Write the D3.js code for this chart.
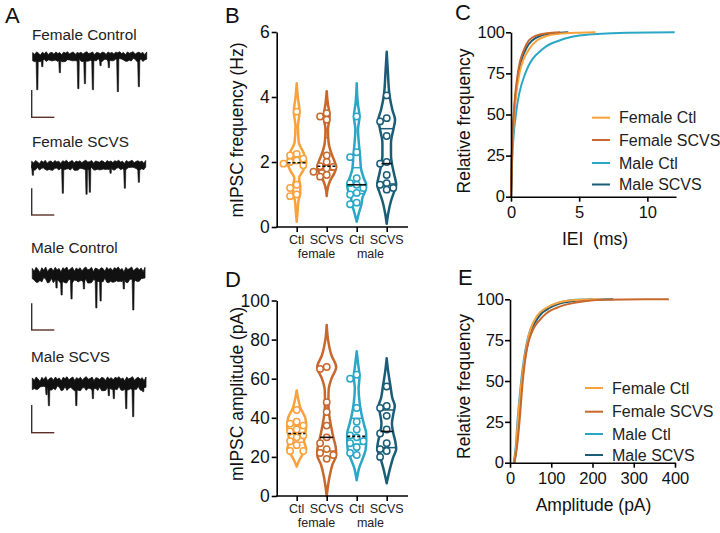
<!DOCTYPE html>
<html><head><meta charset="utf-8">
<script src="https://cdn.jsdelivr.net/npm/d3@7"></script>
<style>
body{margin:0;background:#fff;}
svg{display:block;font-family:"Liberation Sans",Arial,Helvetica,sans-serif;}
</style></head><body>
<svg id="chart" width="720" height="533"></svg>
<script>
// ---------------- DATA ----------------
const groups = ["Female Ctl","Female SCVS","Male Ctl","Male SCVS"];
const groupLabels = ["Ctl","SCVS","Ctl","SCVS"];
const sexLabels = ["female","male"];
const colors = ["#F9A23B","#C8682D","#2AA7C7","#1B5C77"];

// Panel A: trace titles, events [time %, depth pA], noise half-amplitude
const traceTitles = ["Female Control","Female SCVS","Male Control","Male SCVS"];
const eventsFemaleControl = [[3.5,33],[7.9,10],[23.3,16],[39.5,32],[45.3,27],[52.3,33],[59,9],[66.3,11],[74.2,35],[92.6,30]];
const eventsFemaleSCVS = [[0.5,10],[26.8,28],[47.6,29],[50.5,27],[68.7,8],[81.2,23],[93.5,17]];
const eventsMaleControl = [[21,13],[25.5,20],[34.3,24],[45.3,14],[56.3,33],[60.1,26],[80.7,14],[89.1,35]];
const eventsMaleSCVS = [[12,11],[14.1,22],[38.2,22],[52.8,15],[66.8,12],[71.2,15],[82.1,25],[88.2,33],[97,8]];
const noiseHalf = [5,5,8,7];
const edgePattern = [0.6,-0.2,0.9,0.3,-0.5,0.8,0.1,1.0,-0.3,0.5,0.7,-0.1,0.9,0.2,0.6,-0.4,0.8,0.4,1.0,0.0,0.5,0.9,-0.2,0.7,0.3,0.8,-0.1,0.6,1.0,0.2,0.4,0.9,-0.3,0.7,0.5,0.1,0.8,0.6,-0.2,0.9,0.3,0.7,0.0,0.8,0.5,1.0,0.2,0.6,-0.4,0.9,0.3,0.6,1.0,-0.1,0.5,0.8,0.2,0.7,-0.3,0.9];

// Panel B: mIPSC frequency (Hz)
const freqTicks = [0,2,4,6];
const freqFemaleCtl = [3.55,2.25,2.2,2.1,2.05,2.0,1.95,1.9,1.3,1.2,1.0,0.95];
const freqFemaleSCVS = [3.5,3.4,3.3,2.2,2.0,1.87,1.85,1.8,1.7,1.6,1.55];
const freqMaleCtl = [3.4,2.3,2.15,1.5,1.35,1.3,1.2,1.05,1.0,0.75,0.7];
const freqMaleSCVS = [4.05,3.35,3.25,2.8,2.0,1.95,1.6,1.35,1.3,1.2,1.15];
// violin outlines [value, relative half-width]
const freqShapeFemaleCtl = [[4.42,0],[4.0,0.12],[3.55,0.3],[3.1,0.13],[2.6,0.22],[2.3,0.7],[2.0,1.0],[1.75,0.7],[1.5,0.25],[1.25,0.38],[1.05,0.38],[0.8,0.18],[0.5,0.1],[0.16,0]];
const freqShapeFemaleSCVS = [[4.18,0],[3.8,0.12],[3.45,0.3],[3.3,0.28],[3.0,0.13],[2.6,0.2],[2.3,0.45],[2.0,0.85],[1.85,1.0],[1.65,0.8],[1.45,0.4],[1.25,0.15],[0.95,0]];
const freqShapeMaleCtl = [[4.42,0],[3.8,0.12],[3.4,0.3],[3.0,0.14],[2.6,0.22],[2.2,0.35],[1.8,0.45],[1.5,0.75],[1.3,1.0],[1.1,0.9],[0.9,0.6],[0.7,0.5],[0.45,0.25],[0.16,0]];
const freqShapeMaleSCVS = [[5.39,0],[4.8,0.12],[4.05,0.3],[3.6,0.6],[3.3,0.88],[3.0,0.7],[2.6,0.45],[2.2,0.45],[1.95,0.55],[1.6,0.8],[1.3,1.0],[1.1,0.8],[0.8,0.45],[0.4,0.15],[0.1,0]];

// Panel D: mIPSC amplitude (pA)
const ampTicks = [0,20,40,60,80,100];
const ampFemaleCtl = [44,38,37,36,34,33,31,30,28,26,23,23];
const ampFemaleSCVS = [66,65,48,43,36,30,27,24,22,21,19];
const ampMaleCtl = [62,60,45,38,34,31,30,28,27,25,22,21];
const ampMaleSCVS = [56,46,45,41,34,32,27,24,23,20];
const ampShapeFemaleCtl = [[54,0],[50,0.15],[45,0.4],[40,0.9],[36,1.0],[32,0.9],[28,0.78],[24,1.0],[21,0.6],[18,0.25],[15,0]];
const ampShapeFemaleSCVS = [[87.5,0],[80,0.14],[72,0.5],[66,1.0],[60,0.5],[54,0.2],[48,0.18],[42,0.25],[36,0.45],[30,0.7],[25,0.95],[21,1.0],[16,0.6],[10,0.3],[5,0.13],[0,0]];
const ampShapeMaleCtl = [[74,0],[68,0.14],[61,0.3],[55,0.2],[48,0.3],[42,0.5],[36,0.8],[32,1.0],[28,1.0],[24,0.95],[20,0.7],[15,0.3],[8,0]];
const ampShapeMaleSCVS = [[70.4,0],[64,0.15],[56,0.4],[50,0.6],[46,0.85],[42,0.7],[37,0.55],[32,0.7],[28,0.9],[24,1.0],[20,0.7],[15,0.4],[10,0.15],[6.5,0]];

// Panel C / E: cumulative distributions
const cumLevels = [0,10,25,50,75,90,95,98,99,99.8,100];
const cumTicks = [0,25,50,75,100];
const ieiTicks = [0,5,10];
const ieiFemaleCtl = [0,0.03,0.08,0.25,0.62,1.35,1.9,2.7,3.4,5.0,6.2];
const ieiFemaleSCVS = [0,0.02,0.06,0.2,0.5,0.98,1.3,1.85,2.3,3.0,3.6];
const ieiMaleCtl = [0,0.03,0.1,0.36,1.05,2.35,3.55,5.0,6.3,8.5,12.0];
const ieiMaleSCVS = [0,0.02,0.06,0.22,0.55,1.1,1.55,2.2,2.8,3.6,4.2];
const ampCumTicks = [0,100,200,300,400];
const ampCumFemaleCtl = [10,15,19,28,43,66,90,118,135,170,220];
const ampCumFemaleSCVS = [11,17,23,31,46,82,115,160,185,230,385];
const ampCumMaleCtl = [9,14,18,27,42,68,92,120,135,160,200];
const ampCumMaleSCVS = [10,16,21,29,45,72,98,130,155,200,250];

// ---------------- DRAW ----------------
const svg = d3.select("#chart");
svg.append("rect").attr("width",720).attr("height",533).attr("fill","#fff");

function panelLabel(t,x,y){
  svg.append("text").attr("x",x).attr("y",y).attr("font-size",22).attr("fill","#111").text(t);
}
panelLabel("A",5,23); panelLabel("B",225,23); panelLabel("C",455,20);
panelLabel("D",225,287); panelLabel("E",458,285);

// ---- Panel A ----
const traceEvents = [eventsFemaleControl,eventsFemaleSCVS,eventsMaleControl,eventsMaleSCVS];
const traceLayout = [
  {x0:32.7,x1:146.7,c:56.7,tx:32,ty:40,bar:[90,117.3]},
  {x0:31.7,x1:145.7,c:165.3,tx:32,ty:146.7,bar:[188.3,215]},
  {x0:32.3,x1:145,c:275,tx:31,ty:252.7,bar:[303.3,330]},
  {x0:32.3,x1:146,c:383.7,tx:31,ty:361.7,bar:[405,432.7]}
];
traceLayout.forEach((L,i)=>{
  const g = svg.append("g");
  g.append("text").attr("x",L.tx).attr("y",L.ty).attr("font-size",15.3).attr("fill","#222").text(traceTitles[i]);
  const xs = d3.scaleLinear().domain([0,100]).range([L.x0,L.x1]);
  const ys = d3.scaleLinear().domain([0,-40]).range([L.c,L.c+40]);
  const N = edgePattern.length;
  const pts = d3.range(N).map(k=>({t:k/(N-1)*100,top:edgePattern[k],bot:edgePattern[(k*7+i*11)%N]}));
  const h = noiseHalf[i];
  g.append("path").datum(pts)
    .attr("d",d3.area().x(d=>xs(d.t))
      .y0(d=>ys(0)-h*(0.55+0.45*d.top))
      .y1(d=>ys(0)+h*(0.55+0.45*d.bot)))
    .attr("fill","#111").attr("stroke","#111").attr("stroke-width",0.8);
  g.selectAll("path.ev").data(traceEvents[i]).join("path").attr("class","ev")
    .attr("d",d=>{const x=xs(d[0]);return `M${x-0.7},${ys(0)} L${x},${ys(-d[1])} L${x+1.2},${ys(-d[1])} L${x+1.6},${ys(0)} Z`;})
    .attr("fill","#111").attr("stroke","#111").attr("stroke-width",0.6);
  // scale bar
  g.append("line").attr("x1",31.7).attr("x2",31.7).attr("y1",L.bar[0]).attr("y2",L.bar[1]).attr("stroke","#333").attr("stroke-width",1.4);
  g.append("line").attr("x1",31).attr("x2",54.3).attr("y1",L.bar[1]).attr("y2",L.bar[1]).attr("stroke","#5a3028").attr("stroke-width",1.4);
});

// ---- Violin panels ----
function violinPanel(opt){
  const {yDomain,yRange,ticks,datasets,shapes,title,titleY,catY,medDash} = opt;
  const y = d3.scaleLinear().domain(yDomain).range(yRange);
  const x = d3.scalePoint().domain(groups).range([296.7,386.7]);
  const g = svg.append("g");
  const maxHalf = 9.5;
  groups.forEach((gr,i)=>{
    const cx = x(gr);
    const shape = shapes[i];
    const area = d3.area().curve(d3.curveMonotoneY)
      .y(d=>y(Math.max(d[0],yDomain[0])))
      .x0(d=>cx-d[1]*maxHalf).x1(d=>cx+d[1]*maxHalf);
    g.append("path").datum(shape).attr("d",area)
      .attr("fill","#fff").attr("stroke",colors[i]).attr("stroke-width",2.5).attr("stroke-linejoin","round");
    const wAt = v=>{
      for(let k=0;k<shape.length-1;k++){
        const a=shape[k],b=shape[k+1];
        if(v<=a[0]&&v>=b[0]){const t=(a[0]-v)/(a[0]-b[0]);return a[1]+(b[1]-a[1])*t;}
      }
      return 0;
    };
    const sorted = datasets[i].slice().sort(d3.ascending);
    const q1=d3.quantile(sorted,0.25), md=d3.quantile(sorted,0.5), q3=d3.quantile(sorted,0.75);
    [q1,q3].forEach(q=>{
      const w=wAt(q)*maxHalf;
      g.append("line").attr("x1",cx-w).attr("x2",cx+w).attr("y1",y(q)).attr("y2",y(q))
        .attr("stroke",colors[i]).attr("stroke-width",1.5);
    });
    // points: simple swarm
    const r=3.2, placed=[];
    const pts=[];
    datasets[i].slice().sort((a,b)=>b-a).forEach(v=>{
      const py=y(v);
      for(const k of [0,-1,1,-2,2,-3,3]){
        const px=cx+k*6.6;
        if(placed.every(p=>Math.hypot(p[0]-px,p[1]-py)>=2*r-0.2)){placed.push([px,py]);pts.push([px,py]);break;}
      }
    });
    g.selectAll(null).data(pts).join("circle")
      .attr("cx",d=>d[0]).attr("cy",d=>d[1]).attr("r",r)
      .attr("fill","#fff").attr("stroke",colors[i]).attr("stroke-width",1.5);
    const wm=wAt(md)*maxHalf;
    g.append("line").attr("x1",cx-wm).attr("x2",cx+wm).attr("y1",y(md)).attr("y2",y(md))
      .attr("stroke","#111").attr("stroke-width",1.6).attr("stroke-dasharray",medDash[i]);
  });
  // axes
  const ya = g.append("g").attr("transform","translate(276.7,0)")
    .call(d3.axisLeft(y).tickValues(ticks).tickFormat(d3.format("d")).tickSize(5).tickPadding(2).tickSizeOuter(0));
  ya.select(".domain").attr("stroke-width",1.6);
  ya.selectAll(".tick line").attr("stroke-width",1.6);
  ya.selectAll("text").attr("font-size",17.5).attr("fill","#111").attr("font-family",null);
  g.append("line").attr("x1",276).attr("x2",408).attr("y1",yRange[0]).attr("y2",yRange[0]).attr("stroke","#000").attr("stroke-width",1.6);
  const xa = g.append("g").attr("transform",`translate(0,${yRange[0]})`)
    .call(d3.axisBottom(x).tickSize(5).tickFormat(""));
  xa.select(".domain").remove();
  xa.selectAll(".tick line").attr("stroke-width",1.6);
  groups.forEach((gr,i)=>{
    g.append("text").attr("x",x(gr)).attr("y",catY).attr("text-anchor","middle").attr("font-size",12.5).attr("fill","#222").text(groupLabels[i]);
  });
  g.append("text").attr("x",316.5).attr("y",catY+14).attr("text-anchor","middle").attr("font-size",12.5).attr("fill","#222").text(sexLabels[0]);
  g.append("text").attr("x",370.5).attr("y",catY+14).attr("text-anchor","middle").attr("font-size",12.5).attr("fill","#222").text(sexLabels[1]);
  g.append("text").attr("transform",`translate(236.5,${titleY}) rotate(-90)`).attr("dy","0.35em")
    .attr("text-anchor","middle").attr("font-size",17.5).attr("fill","#111").text(title);
}

violinPanel({yDomain:[0,6],yRange:[227,32],ticks:freqTicks,
  datasets:[freqFemaleCtl,freqFemaleSCVS,freqMaleCtl,freqMaleSCVS],
  shapes:[freqShapeFemaleCtl,freqShapeFemaleSCVS,freqShapeMaleCtl,freqShapeMaleSCVS],
  title:"mIPSC frequency (Hz)",titleY:130,catY:244,medDash:["3,2","3,2","none","none"]});
violinPanel({yDomain:[0,100],yRange:[496,300.5],ticks:ampTicks,
  datasets:[ampFemaleCtl,ampFemaleSCVS,ampMaleCtl,ampMaleSCVS],
  shapes:[ampShapeFemaleCtl,ampShapeFemaleSCVS,ampShapeMaleCtl,ampShapeMaleSCVS],
  title:"mIPSC amplitude (pA)",titleY:394,catY:513,medDash:["3,2","none","3,2","none"]});

// ---- Cumulative panels ----
function cumPanel(opt){
  const {xDomain,xRange,yRange,xTicks,series,order,xTitle,xTitleX,xTitleY,titleY,legX,legRows} = opt;
  const x = d3.scaleLinear().domain(xDomain).range(xRange);
  const y = d3.scaleLinear().domain([0,100]).range(yRange);
  const g = svg.append("g");
  const line = d3.line().curve(d3.curveMonotoneX).x(d=>x(d[0])).y(d=>y(d[1]));
  order.forEach(i=>{
    const pts = series[i].map((v,k)=>[v,cumLevels[k]]);
    g.append("path").datum(pts).attr("d",line).attr("fill","none")
      .attr("stroke",colors[i]).attr("stroke-width",2);
  });
  const ya = g.append("g").attr("transform",`translate(${xRange[0]},0)`)
    .call(d3.axisLeft(y).tickValues(cumTicks).tickSize(5).tickPadding(1).tickSizeOuter(0));
  const xa = g.append("g").attr("transform",`translate(0,${yRange[0]})`)
    .call(d3.axisBottom(x).tickValues(xTicks).tickSize(5).tickPadding(5).tickSizeOuter(0));
  [ya,xa].forEach(a=>{
    a.select(".domain").attr("stroke-width",1.6);
    a.selectAll(".tick line").attr("stroke-width",1.6);
    a.selectAll("text").attr("font-size",16.5).attr("fill","#111").attr("font-family",null);
  });
  g.append("text").attr("x",xTitleX).attr("y",xTitleY).attr("text-anchor","middle")
    .attr("font-size",17.5).attr("fill","#111").style("white-space","pre").text(xTitle);
  g.append("text").attr("transform",`translate(463.5,${titleY}) rotate(-90)`).attr("dy","0.35em")
    .attr("text-anchor","middle").attr("font-size",17.5).attr("fill","#111").text("Relative frequency");
  groups.forEach((gr,i)=>{
    g.append("line").attr("x1",legX).attr("x2",legX+18).attr("y1",legRows[i]).attr("y2",legRows[i])
      .attr("stroke",colors[i]).attr("stroke-width",2);
    g.append("text").attr("x",legX+27).attr("y",legRows[i]).attr("dy","0.35em")
      .attr("font-size",16).attr("fill","#222").text(gr);
  });
}

cumPanel({xDomain:[0,12.1],xRange:[511,676],yRange:[196.7,32.3],xTicks:ieiTicks,
  series:[ieiFemaleCtl,ieiFemaleSCVS,ieiMaleCtl,ieiMaleSCVS],order:[2,3,0,1],
  xTitle:"IEI  (ms)",xTitleX:595,xTitleY:245,titleY:121,
  legX:592,legRows:[117.7,140,163,184.5]});
cumPanel({xDomain:[0,400],xRange:[510,675],yRange:[462.7,299.3],xTicks:ampCumTicks,
  series:[ampCumFemaleCtl,ampCumFemaleSCVS,ampCumMaleCtl,ampCumMaleSCVS],order:[2,3,0,1],
  xTitle:"Amplitude (pA)",xTitleX:593.5,xTitleY:511,titleY:386.5,
  legX:585,legRows:[388,411.7,434,455]});
</script>
</body></html>
